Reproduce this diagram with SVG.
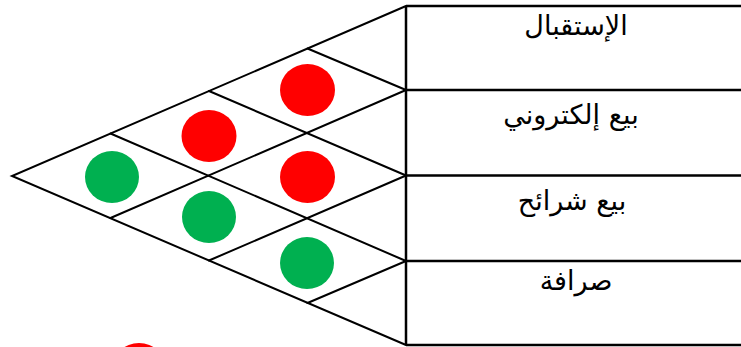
<svg xmlns="http://www.w3.org/2000/svg" width="741" height="347" viewBox="0 0 741 347">
<style>
.ln{stroke:#000;stroke-width:2;fill:none;stroke-linecap:round}
.tb{stroke:#000;stroke-width:2.5;fill:none}
.red{fill:#FF0000}
.grn{fill:#00B050}
.lbl{font-family:"DejaVu Sans","Noto Sans",sans-serif;font-size:27px;fill:#000;text-anchor:middle}
</style>
<rect width="741" height="347" fill="#fff"/>
<g id="connectors">
<path class="ln" d="M406,6 L12,176 L406,345"/>
<path class="ln" d="M307.5,48.5 L406,90 M209,91 L406,175.5 M110.5,133.5 L406,261"/>
<path class="ln" d="M307.5,303 L406,261 M209,260.5 L406,175.5 M110.5,218 L406,90"/>
</g>
<g id="table">
<path class="tb" d="M406,6 V345 M406,6 H741 M406,90 H741 M406,175.5 H741 M406,261 H741 M406,345 H741"/>
</g>
<g id="circles">
<ellipse id="c1" class="red" cx="307.5" cy="90" rx="27.5" ry="26"/>
<ellipse id="c2" class="red" cx="209" cy="136" rx="27.5" ry="26"/>
<ellipse id="c3" class="grn" cx="112" cy="177" rx="27" ry="26"/>
<ellipse id="c4" class="red" cx="307.5" cy="177" rx="27.5" ry="26"/>
<ellipse id="c5" class="grn" cx="209" cy="217" rx="27" ry="26"/>
<ellipse id="c6" class="grn" cx="307" cy="263" rx="27" ry="26"/>
<ellipse id="c7" class="red" cx="139" cy="369" rx="27" ry="26"/>
</g>
<g id="labels">
<text id="t1" class="lbl" x="576" y="35">الإستقبال</text>
<text id="t2" class="lbl" x="571" y="124">بيع إلكتروني</text>
<text id="t3" class="lbl" x="572" y="210">بيع شرائح</text>
<text id="t4" class="lbl" x="576" y="290">صرافة</text>
</g>
</svg>
